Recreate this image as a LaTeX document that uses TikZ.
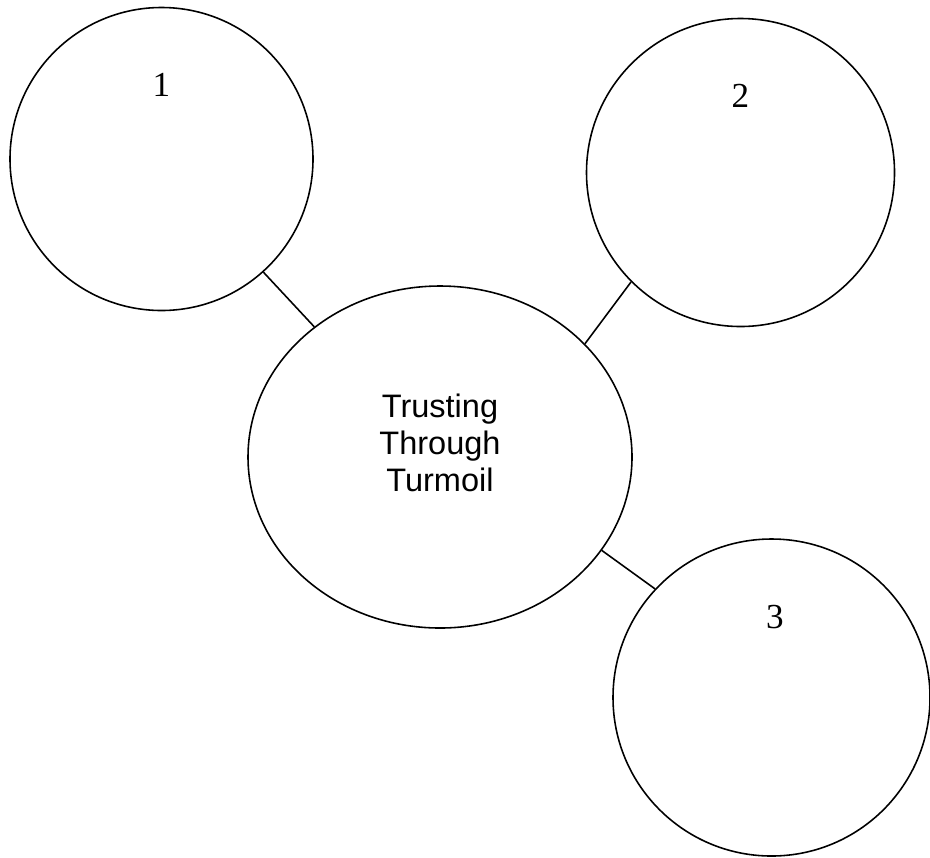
\documentclass[tikz,border=0pt]{standalone}
\usepackage{fontspec}
\setmainfont{Liberation Serif}
\newfontfamily\arialfont{Liberation Sans}
\usetikzlibrary{shapes.geometric,positioning,calc}
\usepackage{xcolor}

\begin{document}
\begin{tikzpicture}[
  every node/.style={align=center,},%
  ci/.style={circle,draw=black,line width=0.9pt,inner sep=0pt,},%
  el/.style={ellipse,draw=black,line width=0.9pt,inner sep=0pt,%
    minimum width=7.68cm,minimum height=6.84cm,},%
  num/.style={font=\fontsize{20}{24}\selectfont,inner sep=0pt,},%
  ti/.style={font=\arialfont\fontsize{18.5}{21.2}\selectfont,inner sep=0pt,},%
  e/.style={-,line width=0.9pt,draw=black},%
  ]
  \useasboundingbox (0,0) rectangle (18.6,-17.14);
  \node (one) [ci,minimum size=6.06cm] at (3.23,-3.18) {};
  \node (two) [ci,minimum size=6.16cm] at (14.81,-3.45) {};
  \node (topic) [el] at (8.8,-9.14) {};
  \node (three) [ci,minimum size=6.34cm] at (15.43,-13.95) {};
  \node (n1) [num] at ([yshift=-1.56cm]one.north) {1};
  \node (n2) [num] at ([yshift=-1.56cm]two.north) {2};
  \node (n3) [num,xshift=0.07cm] at ([yshift=-1.58cm]three.north) {3};
  \node (tt) [ti] at ([yshift=0.28cm]topic.center) {Trusting\\Through\\Turmoil};
  \draw [e] (one.-48) -- (topic.134);
  \draw [e] (two.225) -- (topic.38);
  \draw [e] (topic.-30) -- (three.137);
\end{tikzpicture}
\end{document}
